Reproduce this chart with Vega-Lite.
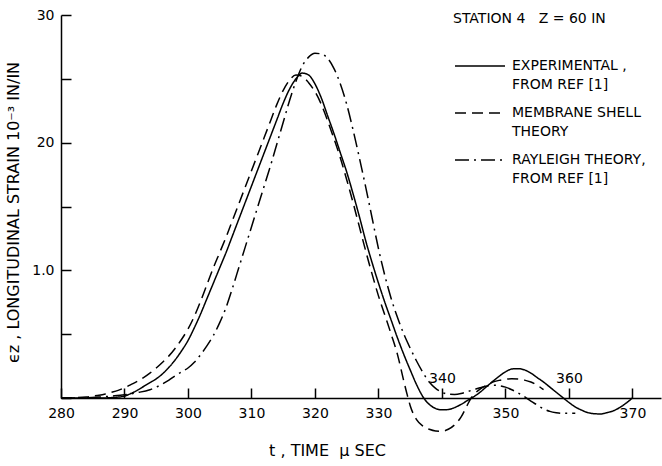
{
  "$schema": "https://vega.github.io/schema/vega-lite/v6.json",
  "width": 600,
  "height": 383,
  "autosize": "none",
  "padding": {"left": 61, "top": 15, "right": 1, "bottom": 68},
  "background": "white",
  "config": {
    "view": {"stroke": null},
    "font": "DejaVu Sans",
    "axis": {
      "grid": false,
      "domainColor": "black",
      "tickColor": "black",
      "labelColor": "black",
      "titleColor": "black",
      "domainWidth": 1.5,
      "tickWidth": 1.5,
      "labelFont": "DejaVu Sans",
      "titleFont": "DejaVu Sans",
      "labelFontSize": 14,
      "titleFontSize": 16,
      "titleFontWeight": "normal"
    },
    "style": {"guide-label": {"lineHeight": 18.5}}
  },
  "data": {
    "values": [
      {"s": "EXP", "t": 280, "v": 0}, {"s": "EXP", "t": 283, "v": 0}, {"s": "EXP", "t": 286, "v": 0}, {"s": "EXP", "t": 288, "v": 0.03}, {"s": "EXP", "t": 289, "v": 0.07}, {"s": "EXP", "t": 290, "v": 0.15}, {"s": "EXP", "t": 291, "v": 0.35}, {"s": "EXP", "t": 292, "v": 0.6}, {"s": "EXP", "t": 293, "v": 0.9}, {"s": "EXP", "t": 294, "v": 1.2}, {"s": "EXP", "t": 295, "v": 1.5}, {"s": "EXP", "t": 296, "v": 1.9}, {"s": "EXP", "t": 297, "v": 2.4}, {"s": "EXP", "t": 298, "v": 3.0}, {"s": "EXP", "t": 299, "v": 3.7}, {"s": "EXP", "t": 300, "v": 4.5}, {"s": "EXP", "t": 301, "v": 5.5}, {"s": "EXP", "t": 302, "v": 6.6}, {"s": "EXP", "t": 303, "v": 7.8}, {"s": "EXP", "t": 304, "v": 9.0}, {"s": "EXP", "t": 305, "v": 10.2}, {"s": "EXP", "t": 306, "v": 11.4}, {"s": "EXP", "t": 307, "v": 12.7}, {"s": "EXP", "t": 308, "v": 14.0}, {"s": "EXP", "t": 309, "v": 15.3}, {"s": "EXP", "t": 310, "v": 16.6}, {"s": "EXP", "t": 311, "v": 17.9}, {"s": "EXP", "t": 312, "v": 19.2}, {"s": "EXP", "t": 313, "v": 20.5}, {"s": "EXP", "t": 314, "v": 21.8}, {"s": "EXP", "t": 315, "v": 23.1}, {"s": "EXP", "t": 316, "v": 24.2}, {"s": "EXP", "t": 317, "v": 25.0}, {"s": "EXP", "t": 318, "v": 25.45}, {"s": "EXP", "t": 319, "v": 25.3}, {"s": "EXP", "t": 320, "v": 24.6}, {"s": "EXP", "t": 321, "v": 23.5}, {"s": "EXP", "t": 322, "v": 22.1}, {"s": "EXP", "t": 323, "v": 20.7}, {"s": "EXP", "t": 324, "v": 19.2}, {"s": "EXP", "t": 325, "v": 17.7}, {"s": "EXP", "t": 326, "v": 16.0}, {"s": "EXP", "t": 327, "v": 14.2}, {"s": "EXP", "t": 328, "v": 12.3}, {"s": "EXP", "t": 329, "v": 10.6}, {"s": "EXP", "t": 330, "v": 9.0}, {"s": "EXP", "t": 331, "v": 7.5}, {"s": "EXP", "t": 332, "v": 6.1}, {"s": "EXP", "t": 333, "v": 4.7}, {"s": "EXP", "t": 334, "v": 3.4}, {"s": "EXP", "t": 335, "v": 2.2}, {"s": "EXP", "t": 336, "v": 1.05}, {"s": "EXP", "t": 337, "v": 0.1}, {"s": "EXP", "t": 338, "v": -0.5}, {"s": "EXP", "t": 339, "v": -0.82}, {"s": "EXP", "t": 340, "v": -0.93}, {"s": "EXP", "t": 341, "v": -0.9}, {"s": "EXP", "t": 342, "v": -0.75}, {"s": "EXP", "t": 343, "v": -0.5}, {"s": "EXP", "t": 344, "v": -0.2}, {"s": "EXP", "t": 345, "v": 0.1}, {"s": "EXP", "t": 346, "v": 0.45}, {"s": "EXP", "t": 347, "v": 0.88}, {"s": "EXP", "t": 348, "v": 1.3}, {"s": "EXP", "t": 349, "v": 1.7}, {"s": "EXP", "t": 350, "v": 2.05}, {"s": "EXP", "t": 351, "v": 2.27}, {"s": "EXP", "t": 352, "v": 2.3}, {"s": "EXP", "t": 353, "v": 2.2}, {"s": "EXP", "t": 354, "v": 1.95}, {"s": "EXP", "t": 355, "v": 1.6}, {"s": "EXP", "t": 356, "v": 1.25}, {"s": "EXP", "t": 357, "v": 0.85}, {"s": "EXP", "t": 358, "v": 0.45}, {"s": "EXP", "t": 359, "v": 0.05}, {"s": "EXP", "t": 360, "v": -0.35}, {"s": "EXP", "t": 361, "v": -0.7}, {"s": "EXP", "t": 362, "v": -0.95}, {"s": "EXP", "t": 363, "v": -1.15}, {"s": "EXP", "t": 364, "v": -1.23}, {"s": "EXP", "t": 365, "v": -1.25}, {"s": "EXP", "t": 366, "v": -1.15}, {"s": "EXP", "t": 367, "v": -1.0}, {"s": "EXP", "t": 368, "v": -0.75}, {"s": "EXP", "t": 369, "v": -0.4}, {"s": "EXP", "t": 370, "v": 0},
      {"s": "MEM", "t": 280, "v": 0}, {"s": "MEM", "t": 282, "v": 0.02}, {"s": "MEM", "t": 284, "v": 0.08}, {"s": "MEM", "t": 285, "v": 0.15}, {"s": "MEM", "t": 286, "v": 0.22}, {"s": "MEM", "t": 287, "v": 0.32}, {"s": "MEM", "t": 288, "v": 0.45}, {"s": "MEM", "t": 289, "v": 0.6}, {"s": "MEM", "t": 290, "v": 0.8}, {"s": "MEM", "t": 291, "v": 1.05}, {"s": "MEM", "t": 292, "v": 1.3}, {"s": "MEM", "t": 293, "v": 1.6}, {"s": "MEM", "t": 294, "v": 1.95}, {"s": "MEM", "t": 295, "v": 2.35}, {"s": "MEM", "t": 296, "v": 2.8}, {"s": "MEM", "t": 297, "v": 3.3}, {"s": "MEM", "t": 298, "v": 3.9}, {"s": "MEM", "t": 299, "v": 4.6}, {"s": "MEM", "t": 300, "v": 5.4}, {"s": "MEM", "t": 301, "v": 6.4}, {"s": "MEM", "t": 302, "v": 7.6}, {"s": "MEM", "t": 303, "v": 8.9}, {"s": "MEM", "t": 304, "v": 10.2}, {"s": "MEM", "t": 305, "v": 11.4}, {"s": "MEM", "t": 306, "v": 12.6}, {"s": "MEM", "t": 307, "v": 13.9}, {"s": "MEM", "t": 308, "v": 15.2}, {"s": "MEM", "t": 309, "v": 16.5}, {"s": "MEM", "t": 310, "v": 17.8}, {"s": "MEM", "t": 311, "v": 19.1}, {"s": "MEM", "t": 312, "v": 20.4}, {"s": "MEM", "t": 313, "v": 21.7}, {"s": "MEM", "t": 314, "v": 23.0}, {"s": "MEM", "t": 315, "v": 24.1}, {"s": "MEM", "t": 316, "v": 24.9}, {"s": "MEM", "t": 317, "v": 25.3}, {"s": "MEM", "t": 318, "v": 25.2}, {"s": "MEM", "t": 319, "v": 24.7}, {"s": "MEM", "t": 320, "v": 24.0}, {"s": "MEM", "t": 321, "v": 23.0}, {"s": "MEM", "t": 322, "v": 21.7}, {"s": "MEM", "t": 323, "v": 20.3}, {"s": "MEM", "t": 324, "v": 18.8}, {"s": "MEM", "t": 325, "v": 17.1}, {"s": "MEM", "t": 326, "v": 15.3}, {"s": "MEM", "t": 327, "v": 13.4}, {"s": "MEM", "t": 328, "v": 11.5}, {"s": "MEM", "t": 329, "v": 9.7}, {"s": "MEM", "t": 330, "v": 8.0}, {"s": "MEM", "t": 331, "v": 6.5}, {"s": "MEM", "t": 332, "v": 5.0}, {"s": "MEM", "t": 333, "v": 3.4}, {"s": "MEM", "t": 334, "v": 1.3}, {"s": "MEM", "t": 334.5, "v": 0.3}, {"s": "MEM", "t": 335, "v": -0.6}, {"s": "MEM", "t": 336, "v": -1.7}, {"s": "MEM", "t": 337, "v": -2.2}, {"s": "MEM", "t": 338, "v": -2.45}, {"s": "MEM", "t": 339, "v": -2.58}, {"s": "MEM", "t": 340, "v": -2.6}, {"s": "MEM", "t": 341, "v": -2.45}, {"s": "MEM", "t": 342, "v": -2.1}, {"s": "MEM", "t": 343, "v": -1.5}, {"s": "MEM", "t": 344, "v": -0.55}, {"s": "MEM", "t": 344.6, "v": 0}, {"s": "MEM", "t": 345, "v": 0.25}, {"s": "MEM", "t": 346, "v": 0.7}, {"s": "MEM", "t": 347, "v": 1.0}, {"s": "MEM", "t": 348, "v": 1.25}, {"s": "MEM", "t": 349, "v": 1.38}, {"s": "MEM", "t": 350, "v": 1.47}, {"s": "MEM", "t": 351, "v": 1.5}, {"s": "MEM", "t": 352, "v": 1.48}, {"s": "MEM", "t": 353, "v": 1.4}, {"s": "MEM", "t": 354, "v": 1.25}, {"s": "MEM", "t": 355, "v": 1.0}, {"s": "MEM", "t": 356, "v": 0.65},
      {"s": "RAY", "t": 280, "v": 0}, {"s": "RAY", "t": 284, "v": 0.02}, {"s": "RAY", "t": 286, "v": 0.07}, {"s": "RAY", "t": 288, "v": 0.15}, {"s": "RAY", "t": 290, "v": 0.25}, {"s": "RAY", "t": 292, "v": 0.42}, {"s": "RAY", "t": 294, "v": 0.65}, {"s": "RAY", "t": 295, "v": 0.85}, {"s": "RAY", "t": 296, "v": 1.1}, {"s": "RAY", "t": 297, "v": 1.4}, {"s": "RAY", "t": 298, "v": 1.75}, {"s": "RAY", "t": 299, "v": 2.05}, {"s": "RAY", "t": 300, "v": 2.35}, {"s": "RAY", "t": 301, "v": 2.8}, {"s": "RAY", "t": 302, "v": 3.4}, {"s": "RAY", "t": 303, "v": 4.1}, {"s": "RAY", "t": 304, "v": 4.9}, {"s": "RAY", "t": 305, "v": 5.9}, {"s": "RAY", "t": 306, "v": 7.1}, {"s": "RAY", "t": 307, "v": 8.6}, {"s": "RAY", "t": 308, "v": 10.2}, {"s": "RAY", "t": 309, "v": 11.8}, {"s": "RAY", "t": 310, "v": 13.4}, {"s": "RAY", "t": 311, "v": 15.0}, {"s": "RAY", "t": 312, "v": 16.6}, {"s": "RAY", "t": 313, "v": 18.2}, {"s": "RAY", "t": 314, "v": 19.9}, {"s": "RAY", "t": 315, "v": 21.6}, {"s": "RAY", "t": 316, "v": 23.3}, {"s": "RAY", "t": 317, "v": 24.8}, {"s": "RAY", "t": 318, "v": 26.0}, {"s": "RAY", "t": 319, "v": 26.7}, {"s": "RAY", "t": 320, "v": 27.0}, {"s": "RAY", "t": 321, "v": 26.95}, {"s": "RAY", "t": 322, "v": 26.6}, {"s": "RAY", "t": 323, "v": 25.8}, {"s": "RAY", "t": 324, "v": 24.6}, {"s": "RAY", "t": 325, "v": 23.0}, {"s": "RAY", "t": 326, "v": 21.0}, {"s": "RAY", "t": 327, "v": 18.8}, {"s": "RAY", "t": 328, "v": 16.5}, {"s": "RAY", "t": 329, "v": 14.1}, {"s": "RAY", "t": 330, "v": 11.7}, {"s": "RAY", "t": 331, "v": 9.6}, {"s": "RAY", "t": 332, "v": 7.8}, {"s": "RAY", "t": 333, "v": 6.3}, {"s": "RAY", "t": 334, "v": 5.0}, {"s": "RAY", "t": 335, "v": 3.9}, {"s": "RAY", "t": 336, "v": 2.9}, {"s": "RAY", "t": 337, "v": 2.0}, {"s": "RAY", "t": 338, "v": 1.25}, {"s": "RAY", "t": 339, "v": 0.75}, {"s": "RAY", "t": 340, "v": 0.45}, {"s": "RAY", "t": 341, "v": 0.3}, {"s": "RAY", "t": 342, "v": 0.28}, {"s": "RAY", "t": 343, "v": 0.35}, {"s": "RAY", "t": 344, "v": 0.5}, {"s": "RAY", "t": 345, "v": 0.65}, {"s": "RAY", "t": 346, "v": 0.8}, {"s": "RAY", "t": 347, "v": 0.93}, {"s": "RAY", "t": 348, "v": 1.0}, {"s": "RAY", "t": 349, "v": 0.97}, {"s": "RAY", "t": 350, "v": 0.85}, {"s": "RAY", "t": 351, "v": 0.65}, {"s": "RAY", "t": 352, "v": 0.4}, {"s": "RAY", "t": 353, "v": 0.1}, {"s": "RAY", "t": 354, "v": -0.25}, {"s": "RAY", "t": 355, "v": -0.55}, {"s": "RAY", "t": 356, "v": -0.85}, {"s": "RAY", "t": 357, "v": -1.05}, {"s": "RAY", "t": 358, "v": -1.15}, {"s": "RAY", "t": 359, "v": -1.2}, {"s": "RAY", "t": 360, "v": -1.2}, {"s": "RAY", "t": 361, "v": -1.2}
    ]
  },
  "mark": {"type": "line", "interpolate": "monotone", "strokeWidth": 1.5, "color": "black"},
  "encoding": {
    "x": {
      "field": "t",
      "type": "quantitative",
      "scale": {"domain": [280, 374.5], "nice": false, "zero": false},
      "axis": {
        "values": [280, 290, 300, 310, 320, 330, 340, 350, 360, 370],
        "ticks": true,
        "tickSize": -10,
        "tickColor": "black",
        "labelFlush": false,
        "labelPadding": {"condition": {"test": "datum.value == 340 || datum.value == 360", "value": -17}, "value": 18},
        "title": "t , TIME\u00a0\u00a0μ SEC",
        "titleX": 266,
        "titlePadding": 22
      }
    },
    "y": {
      "field": "v",
      "type": "quantitative",
      "scale": {"domain": [0, 30], "nice": false, "zero": false},
      "axis": {
        "values": [0, 5, 10, 15, 20, 25, 30],
        "tickSize": -10,
        "labelPadding": 17,
        "labelExpr": "datum.value == 10 ? '1.0' : (datum.value == 20 || datum.value == 30) ? datum.label : ''",
        "title": "ϵz , LONGITUDINAL STRAIN 10⁻³ IN/IN",
        "titleY": 197,
        "titlePadding": 10
      }
    },
    "strokeDash": {
      "field": "s",
      "type": "nominal",
      "scale": {"domain": ["EXP", "MEM", "RAY"], "range": [[1, 0], [11, 6], [14, 5, 2, 5]]},
      "legend": {
        "orient": "none",
        "legendX": 392,
        "legendY": -3,
        "padding": 0,
        "title": "STATION 4\u00a0\u00a0 Z = 60 IN",
        "titleFontSize": 14,
        "titleFontWeight": "normal",
        "titleColor": "black",
        "titlePadding": 29,
        "labelFontSize": 14,
        "labelColor": "black",
        "labelLimit": 300,
        "labelOffset": 21,
        "labelBaseline": "middle",
        "symbolType": "M-2.5,0H2.5",
        "symbolSize": 400,
        "symbolOffset": 16,
        "symbolStrokeWidth": 1.5,
        "symbolStrokeColor": "black",
        "rowPadding": 10,
        "labelExpr": "datum.label == 'EXP' ? ['EXPERIMENTAL ,', '\u00a0\u00a0FROM REF [1]'] : datum.label == 'MEM' ? ['MEMBRANE SHELL', '\u00a0\u00a0THEORY'] : ['RAYLEIGH THEORY,', '\u00a0\u00a0FROM REF [1]']"
      }
    }
  }
}
